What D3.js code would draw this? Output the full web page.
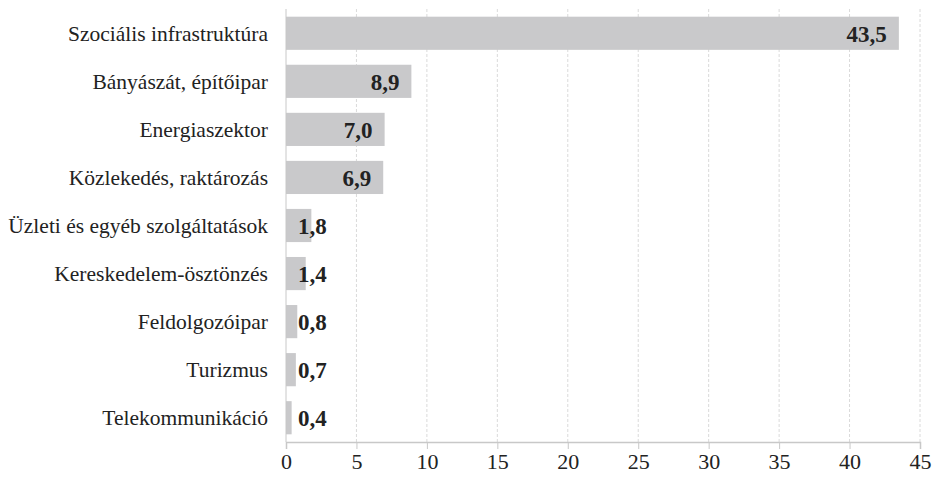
<!DOCTYPE html>
<html>
<head>
<meta charset="utf-8">
<script src="https://cdn.jsdelivr.net/npm/d3@7"></script>
<style>
  body { margin: 0; background: #fff; }
</style>
</head>
<body>
<svg id="chart" width="936" height="479"></svg>
<script>
// sectors and their values
const categories = ["Szociális infrastruktúra", "Bányászát, építőipar", "Energiaszektor",
    "Közlekedés, raktározás", "Üzleti és egyéb szolgáltatások", "Kereskedelem-ösztönzés",
    "Feldolgozóipar", "Turizmus", "Telekommunikáció"];
const values = [43.5, 8.9, 7.0, 6.9, 1.8, 1.4, 0.8, 0.7, 0.4];
const xTicks = [0, 5, 10, 15, 20, 25, 30, 35, 40, 45];

const FONT = "'Liberation Serif', 'Times New Roman', serif";

const svg = d3.select("#chart");
const margin = {left: 286, right: 16, top: 9, bottom: 37};
const W = 936, H = 479;

const x = d3.scaleLinear().domain([0, 45]).range([margin.left, W - margin.right]);
const y = d3.scaleBand().domain(categories).range([margin.top, H - margin.bottom]).paddingInner(0.31).paddingOuter(0.16);

// dashed gridlines
svg.append("g").selectAll("line")
    .data(xTicks.slice(1))
    .join("line")
    .attr("x1", d => x(d)).attr("x2", d => x(d))
    .attr("y1", margin.top).attr("y2", H - margin.bottom)
    .attr("stroke", "#dadada")
    .attr("stroke-dasharray", "3,2");

// bars
svg.append("g").selectAll("rect")
    .data(values)
    .join("rect")
    .attr("x", x(0))
    .attr("y", (d, i) => y(categories[i]))
    .attr("width", d => x(d) - x(0))
    .attr("height", y.bandwidth())
    .attr("fill", "#c9c9cb");

// left axis line
svg.append("line")
    .attr("x1", x(0)).attr("x2", x(0))
    .attr("y1", margin.top).attr("y2", H - margin.bottom)
    .attr("stroke", "#c8c8c8");

// bottom axis
const xAxis = svg.append("g")
    .attr("transform", `translate(0, ${H - margin.bottom})`)
    .call(d3.axisBottom(x).tickValues(xTicks).tickSize(7).tickPadding(4).tickFormat(d3.format("d")));
xAxis.select(".domain").attr("stroke", "#c8c8c8").attr("stroke-width", 1.5);
xAxis.selectAll(".tick line").attr("stroke", "#c8c8c8");
xAxis.selectAll(".tick text")
    .style("font-family", FONT)
    .style("font-size", "22px")
    .attr("fill", "#222");

// category labels
svg.append("g").selectAll("text")
    .data(categories)
    .join("text")
    .attr("x", 268)
    .attr("y", d => y(d) + y.bandwidth() / 2)
    .attr("dy", "0.35em")
    .attr("text-anchor", "end")
    .style("font-family", FONT)
    .style("font-size", "21.5px")
    .attr("fill", "#222")
    .text(d => d);

// value labels
const fmt = v => v.toFixed(1).replace(".", ",");
svg.append("g").selectAll("text")
    .data(values)
    .join("text")
    .attr("x", d => d >= 5 ? x(d) - 12 : x(0) + 12)
    .attr("y", (d, i) => y(categories[i]) + y.bandwidth() / 2)
    .attr("dy", "0.36em")
    .attr("text-anchor", d => d >= 5 ? "end" : "start")
    .style("font-family", FONT)
    .style("font-size", "23px")
    .style("font-weight", "bold")
    .attr("fill", "#222")
    .text(fmt);
</script>
</body>
</html>
